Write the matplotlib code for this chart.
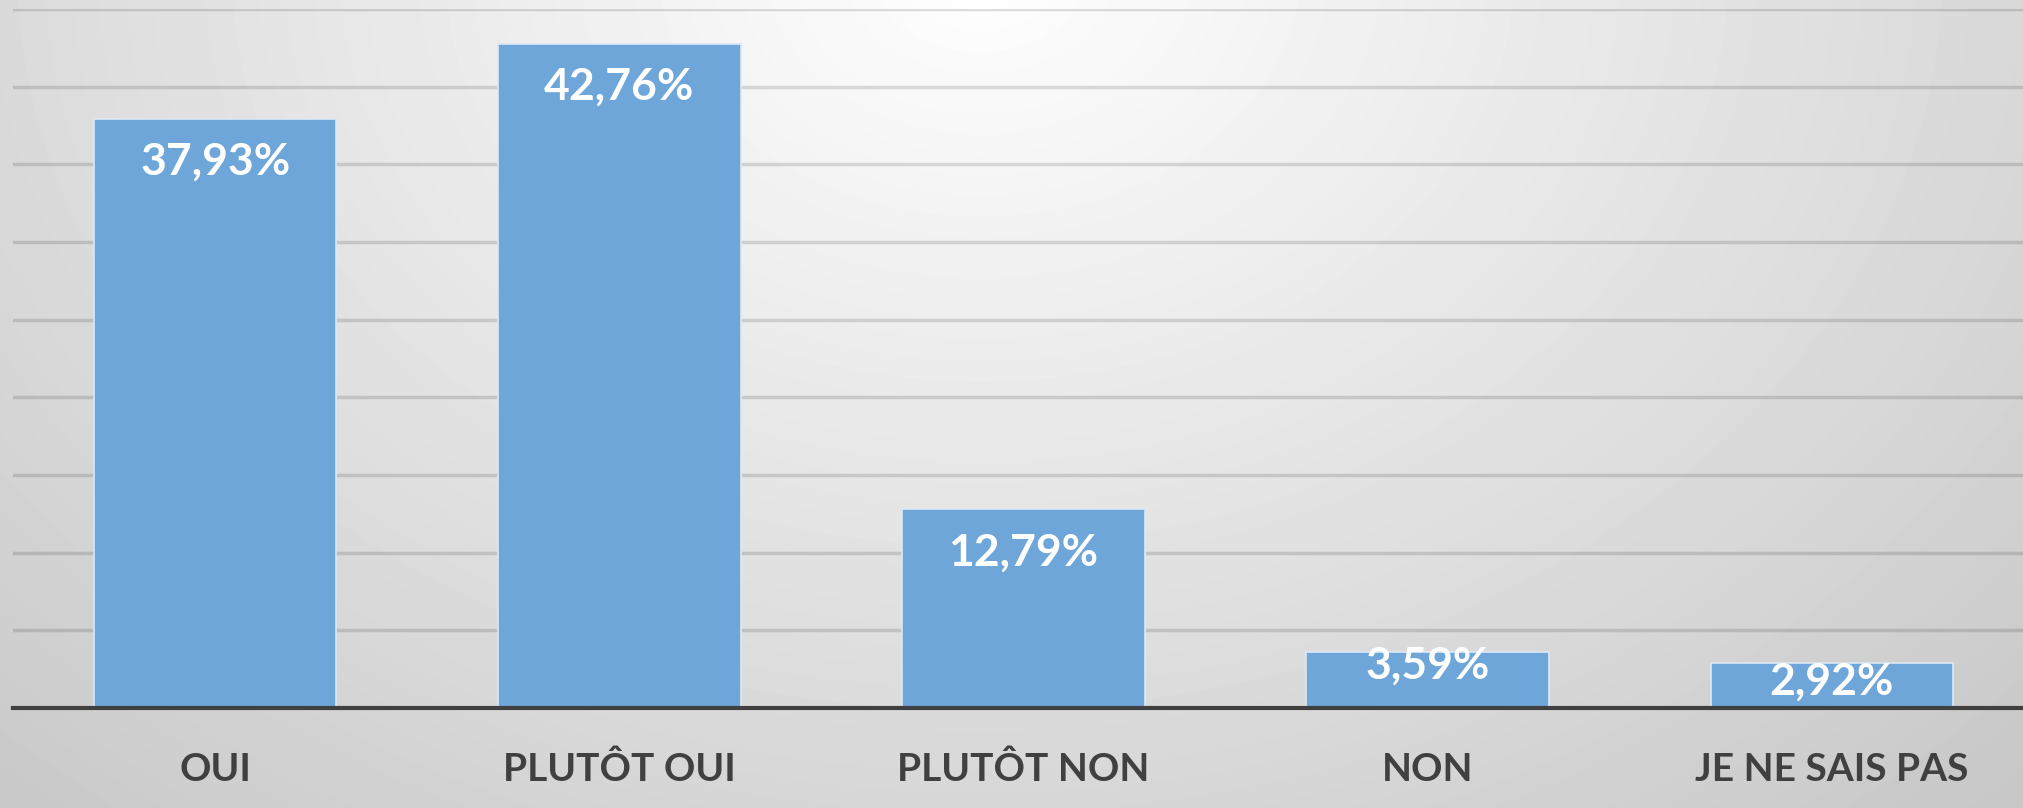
import numpy as np
import matplotlib
matplotlib.use("Agg")
import matplotlib.pyplot as plt

categories = ["OUI", "PLUTÔT OUI", "PLUTÔT NON", "NON", "JE NE SAIS PAS"]
values = [37.93, 42.76, 12.79, 3.59, 2.92]
labels = ["37,93%", "42,76%", "12,79%", "3,59%", "2,92%"]

plt.rcParams['font.family'] = ['Lato', 'DejaVu Sans']

W, H = 2023, 808
fig = plt.figure(figsize=(W / 100, H / 100), dpi=100)

# radial grey background, brightest near the top middle
bg = fig.add_axes([0, 0, 1, 1], zorder=-10)
yy, xx = np.mgrid[0:H, 0:W]
d = np.sqrt(((xx - 980) / 1300.0) ** 2 + ((yy + 30) / 1000.0) ** 2)
shade = np.clip(1.0 - 0.19 * d, 0.78, 1.0)
bg.imshow(shade, cmap="gray", vmin=0, vmax=1, extent=[0, 1, 0, 1],
          aspect="auto", interpolation="bilinear")
bg.axis("off")

ax = fig.add_axes([13 / W, 1 - 708 / H, 2021 / W, 699 / H])
ax.patch.set_alpha(0)
x = np.arange(len(categories))
bars = ax.bar(x, values, width=0.6, color="#6fa6d9", edgecolor="#dce9f5",
              linewidth=1.2, zorder=3)

ax.set_xlim(-0.5, 4.5)
ax.set_ylim(0, 45)
ax.set_yticks(np.arange(5, 46, 5))
ax.yaxis.grid(True, color="black", alpha=0.13, linewidth=2.5, zorder=1)
ax.tick_params(axis="y", left=False, labelleft=False)
ax.tick_params(axis="x", bottom=False, pad=28)
for s in ["top", "right", "left"]:
    ax.spines[s].set_visible(False)
ax.spines["bottom"].set_color("#404040")
ax.spines["bottom"].set_linewidth(3)
ax.spines["bottom"].set_zorder(4)

ax.set_xticks(x)
ax.set_xticklabels(categories, fontsize=28, fontweight="bold", color="#404040")

offsets = [43, 43, 43, 13, 19]
for b, lab, off in zip(bars, labels, offsets):
    ax.annotate(lab, (b.get_x() + b.get_width() / 2, b.get_height()),
                xytext=(0, -off * 0.72), textcoords="offset points",
                ha="center", va="center", fontsize=32, fontweight="bold",
                color="white", zorder=5)

plt.savefig("out.png", dpi=100)
